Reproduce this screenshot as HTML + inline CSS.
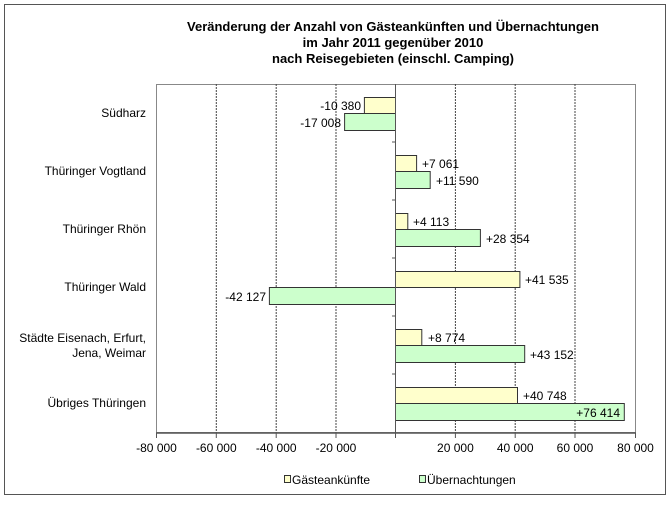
<!DOCTYPE html>
<html><head><meta charset="utf-8"><style>
html,body{margin:0;padding:0;background:#fff;}
svg{display:block;font-family:"Liberation Sans",Arial,sans-serif;}
</style></head><body>
<svg width="668" height="531" viewBox="0 0 668 531" xmlns="http://www.w3.org/2000/svg">
<rect x="0" y="0" width="668" height="531" fill="#fff"/>
<rect x="4.5" y="4.5" width="661" height="490" fill="#fff" stroke="#555" stroke-width="1"/>
<g font-weight="bold" font-size="13" text-anchor="middle" fill="#000">
<text x="393" y="31">Veränderung der Anzahl von Gästeankünften und Übernachtungen</text>
<text x="393" y="47">im Jahr 2011 gegenüber 2010</text>
<text x="393" y="63">nach Reisegebieten (einschl. Camping)</text>
</g>
<rect x="156.5" y="84.5" width="479" height="348" fill="#fff" stroke="#888" stroke-width="1"/>
<g stroke="#444" stroke-width="1" stroke-dasharray="2,1">
<line x1="216.3" y1="84" x2="216.3" y2="433"/>
<line x1="276.2" y1="84" x2="276.2" y2="433"/>
<line x1="336" y1="84" x2="336" y2="433"/>
<line x1="455.4" y1="84" x2="455.4" y2="433"/>
<line x1="515.2" y1="84" x2="515.2" y2="433"/>
<line x1="575" y1="84" x2="575" y2="433"/>
</g>
<line x1="156" y1="433" x2="636" y2="433" stroke="#555" stroke-width="1.5"/>
<g stroke="#555">
<line x1="156.5" y1="433" x2="156.5" y2="438"/><line x1="216.3" y1="433" x2="216.3" y2="438"/>
<line x1="276.2" y1="433" x2="276.2" y2="438"/><line x1="336" y1="433" x2="336" y2="438"/>
<line x1="395.5" y1="433" x2="395.5" y2="438"/><line x1="455.4" y1="433" x2="455.4" y2="438"/>
<line x1="515.2" y1="433" x2="515.2" y2="438"/><line x1="575" y1="433" x2="575" y2="438"/>
<line x1="635.5" y1="433" x2="635.5" y2="438"/>
</g>
<g stroke="#333" stroke-width="1">
<rect x="364.4" y="97.5" width="31.1" height="16" fill="#ffffcc"/>
<rect x="344.6" y="113.5" width="50.9" height="17" fill="#ccffcc"/>
<rect x="395.5" y="155.5" width="21.1" height="16" fill="#ffffcc"/>
<rect x="395.5" y="171.5" width="34.7" height="17" fill="#ccffcc"/>
<rect x="395.5" y="213.5" width="12.3" height="16" fill="#ffffcc"/>
<rect x="395.5" y="229.5" width="84.9" height="17" fill="#ccffcc"/>
<rect x="395.5" y="271.5" width="124.4" height="16" fill="#ffffcc"/>
<rect x="269.4" y="287.5" width="126.1" height="17" fill="#ccffcc"/>
<rect x="395.5" y="329.5" width="26.3" height="16" fill="#ffffcc"/>
<rect x="395.5" y="345.5" width="129.2" height="17" fill="#ccffcc"/>
<rect x="395.5" y="387.5" width="122" height="16" fill="#ffffcc"/>
<rect x="395.5" y="403.5" width="228.8" height="17" fill="#ccffcc"/>
</g>
<line x1="395.5" y1="84" x2="395.5" y2="433" stroke="#555" stroke-width="1"/>
<g stroke="#555"><line x1="392" y1="142" x2="395.5" y2="142"/><line x1="392" y1="200" x2="395.5" y2="200"/><line x1="392" y1="258" x2="395.5" y2="258"/><line x1="392" y1="316" x2="395.5" y2="316"/><line x1="392" y1="374" x2="395.5" y2="374"/></g>
<g font-size="12" fill="#000">
<text x="361" y="110" text-anchor="end">-10 380</text>
<text x="341" y="127" text-anchor="end">-17 008</text>
<text x="422" y="168">+7 061</text>
<text x="436" y="185">+11 590</text>
<text x="413" y="226">+4 113</text>
<text x="486" y="243">+28 354</text>
<text x="525" y="284">+41 535</text>
<text x="266" y="301" text-anchor="end">-42 127</text>
<text x="428" y="342">+8 774</text>
<text x="530" y="359">+43 152</text>
<text x="523" y="400">+40 748</text>
<text x="620" y="417" text-anchor="end">+76 414</text>
</g>
<g font-size="12" fill="#000" text-anchor="end">
<text x="146" y="117">Südharz</text>
<text x="146" y="175">Thüringer Vogtland</text>
<text x="146" y="233">Thüringer Rhön</text>
<text x="146" y="291">Thüringer Wald</text>
<text x="146" y="342">Städte Eisenach, Erfurt,</text>
<text x="146" y="357">Jena, Weimar</text>
<text x="146" y="407">Übriges Thüringen</text>
</g>
<g font-size="12" fill="#000" text-anchor="middle">
<text x="156.5" y="452">-80 000</text><text x="216.3" y="452">-60 000</text>
<text x="276.2" y="452">-40 000</text><text x="336" y="452">-20 000</text>
<text x="455.4" y="452">20 000</text><text x="515.2" y="452">40 000</text>
<text x="575" y="452">60 000</text><text x="635.5" y="452">80 000</text>
</g>
<rect x="284.5" y="475.5" width="6" height="7" fill="#ffffcc" stroke="#333"/>
<text x="292" y="484" font-size="12">Gästeankünfte</text>
<rect x="419.5" y="475.5" width="6" height="7" fill="#ccffcc" stroke="#333"/>
<text x="427" y="484" font-size="12">Übernachtungen</text>
</svg>
</body></html>
